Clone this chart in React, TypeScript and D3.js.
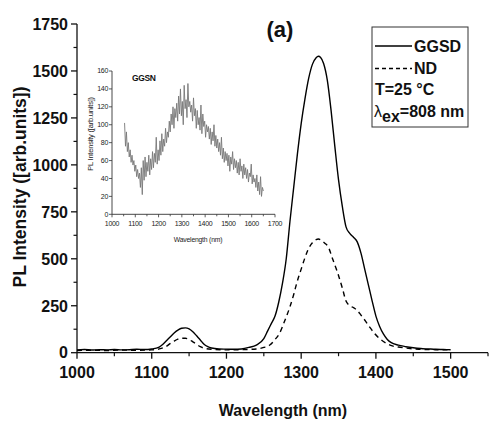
import React from "react";
import * as d3 from "d3";

// ---------- data ----------
const ggsdWl = [1000,1010,1020,1030,1040,1050,1060,1070,1080,1090,1100,1110,1115,1120,1125,1130,1135,1140,1145,1150,1155,1160,1165,1170,1175,1180,1190,1200,1210,1220,1230,1240,1250,1255,1260,1265,1270,1275,1280,1285,1290,1295,1300,1305,1310,1315,1320,1323,1326,1330,1335,1340,1345,1350,1355,1360,1365,1370,1375,1380,1385,1390,1395,1400,1405,1410,1415,1420,1430,1440,1450,1460,1470,1480,1490,1500];
const ggsdVal = [15,17,14,16,15,17,15,16,18,17,20,30,45,65,85,105,120,130,132,127,112,90,68,45,32,25,20,19,18,20,28,40,75,115,155,195,270,370,500,700,880,1060,1220,1350,1460,1535,1570,1578,1572,1540,1450,1290,1100,920,780,670,635,615,590,530,445,360,275,195,140,100,72,55,40,32,26,22,20,18,17,16];

const ndWl = [1000,1020,1040,1060,1080,1100,1110,1120,1125,1130,1135,1140,1145,1150,1155,1160,1165,1170,1180,1200,1220,1240,1250,1258,1265,1271,1278,1285,1290,1294,1300,1305,1309,1315,1320,1323,1327,1332,1336,1342,1349,1355,1360,1365,1370,1375,1380,1385,1391,1398,1405,1414,1422,1430,1440,1450,1460,1480,1500];
const ndVal = [12,13,12,14,13,15,20,35,50,62,72,77,77,70,58,45,32,24,18,15,16,20,28,41,70,103,170,245,310,370,445,505,547,585,602,605,598,582,565,500,423,345,275,250,240,225,200,174,140,103,75,50,36,30,25,20,18,16,15];

const ggsnStart = 1054;
const ggsnStep = 4;
const ggsnVal = [
  102,76,92,70,80,64,72,58,66,55,
  60,48,55,42,50,40,46,30,52,22,
  60,38,64,42,58,48,66,44,62,50,
  70,52,68,58,86,56,72,60,82,66,
  90,70,84,76,96,80,92,86,104,92,
  112,100,120,96,118,108,124,104,132,112,
  140,110,126,100,144,118,128,108,146,120,
  126,114,122,104,130,110,118,96,116,100,
  108,94,122,90,112,98,104,86,100,92,
  98,84,96,78,92,82,100,76,88,74,
  84,70,80,66,86,62,74,58,70,60,
  68,54,66,48,64,56,70,50,62,52,
  60,46,58,44,62,48,54,40,56,44,
  52,40,50,36,46,42,56,34,44,36,
  40,30,44,26,36,22,42,20,30,26,
];

const xMajor = [1000,1100,1200,1300,1400,1500];
const xMinor = [1050,1150,1250,1350,1450,1550];
const yMajor = [0,250,500,750,1000,1250,1500,1750];
const yMinor = [125,375,625,875,1125,1375,1625];
const insetXMajor = [1000,1100,1200,1300,1400,1500,1600,1700];
const insetXMinor = [1050,1150,1250,1350,1450,1550,1650];
const insetYMajor = [0,20,40,60,80,100,120,140,160];

const FONT = "'Liberation Sans', Arial, Helvetica, sans-serif";

export default function App() {
  const x = d3.scaleLinear().domain([1000, 1550]).range([77, 488]);
  const y = d3.scaleLinear().domain([0, 1750]).range([352.7, 24]);

  const ix = d3.scaleLinear().domain([1000, 1700]).range([112, 275]);
  const iy = d3.scaleLinear().domain([0, 160]).range([214.3, 71]);

  const line = d3.line<[number, number]>().x(d => x(d[0])).y(d => y(d[1])).curve(d3.curveMonotoneX);
  const ggsd = line(ggsdWl.map((w, i) => [w, ggsdVal[i]]));
  const nd = line(ndWl.map((w, i) => [w, ndVal[i]]));
  const iline = d3.line<[number, number]>().x(d => ix(d[0])).y(d => iy(d[1]));
  const ggsn = iline(ggsnVal.map((v, i) => [ggsnStart + i * ggsnStep, v]));

  const axisColor = "#111";

  return (
    <svg width={489} height={422} style={{ position: "absolute", left: 0, top: 0, background: "#fff" }} fontFamily={FONT}>
      <rect x={0} y={0} width={489} height={422} fill="#fff" />
      {/* main axes */}
      <line x1={x(1000)} x2={488} y1={y(0)} y2={y(0)} stroke={axisColor} strokeWidth={1.3} />
      <line x1={x(1000)} x2={x(1000)} y1={y(0)} y2={y(1750)} stroke={axisColor} strokeWidth={1.3} />
      {xMajor.map(t => (
        <g key={"xm" + t}>
          <line x1={x(t)} x2={x(t)} y1={y(0)} y2={y(0) + 6} stroke={axisColor} strokeWidth={1.3} />
          <text x={x(t)} y={378} textAnchor="middle" fontSize={16} fontWeight="bold" fill="#111">{t}</text>
        </g>
      ))}
      {xMinor.map(t => (
        <line key={"xn" + t} x1={x(t)} x2={x(t)} y1={y(0)} y2={y(0) + 3.5} stroke={axisColor} strokeWidth={1.2} />
      ))}
      {yMajor.map(t => (
        <g key={"ym" + t}>
          <line x1={x(1000) - 6} x2={x(1000)} y1={y(t)} y2={y(t)} stroke={axisColor} strokeWidth={1.3} />
          <text x={68} y={y(t)} dy="0.36em" textAnchor="end" fontSize={16} fontWeight="bold" fill="#111">{t}</text>
        </g>
      ))}
      {yMinor.map(t => (
        <line key={"yn" + t} x1={x(1000) - 3.5} x2={x(1000)} y1={y(t)} y2={y(t)} stroke={axisColor} strokeWidth={1.2} />
      ))}
      <text x={283} y={416} textAnchor="middle" fontSize={16} fontWeight="bold" fill="#111">Wavelength (nm)</text>
      <text transform="translate(26,187) rotate(-90)" textAnchor="middle" fontSize={17.5} fontWeight="bold" fill="#111">PL Intensity ([arb.units])</text>

      {/* main curves */}
      <path d={ggsd ?? ""} fill="none" stroke="#000" strokeWidth={1.4} />
      <path d={nd ?? ""} fill="none" stroke="#000" strokeWidth={1.4} strokeDasharray="5,4" />

      {/* panel label */}
      <text x={280} y={37} textAnchor="middle" fontSize={22} fontWeight="bold" fill="#111">(a)</text>

      {/* legend */}
      <rect x={372} y={27} width={96} height={100} fill="#fff" stroke="#333" strokeWidth={1} />
      <line x1={375} x2={412} y1={46} y2={46} stroke="#000" strokeWidth={1.3} />
      <text x={414} y={51.5} fontSize={16} fontWeight="bold" fill="#111">GGSD</text>
      <line x1={375} x2={412} y1={68.5} y2={68.5} stroke="#000" strokeWidth={1.3} strokeDasharray="4,3" />
      <text x={414} y={73.5} fontSize={16} fontWeight="bold" fill="#111">ND</text>
      <text x={375} y={95} fontSize={16} fontWeight="bold" fill="#111">T=25 °C</text>
      <text x={374} y={117} fontSize={16} fontWeight="bold" fill="#111">
        <tspan fontWeight="normal">λ</tspan>
        <tspan dy={5}>ex</tspan>
        <tspan dy={-5}>=808 nm</tspan>
      </text>

      {/* inset */}
      <line x1={ix(1000)} x2={ix(1700)} y1={iy(0)} y2={iy(0)} stroke="#333" strokeWidth={0.9} />
      <line x1={ix(1000)} x2={ix(1000)} y1={iy(0)} y2={iy(160)} stroke="#333" strokeWidth={0.9} />
      {insetXMajor.map(t => (
        <g key={"ixm" + t}>
          <line x1={ix(t)} x2={ix(t)} y1={iy(0)} y2={iy(0) + 3} stroke="#333" strokeWidth={0.8} />
          <text x={ix(t)} y={226} textAnchor="middle" fontSize={7} fill="#222" letterSpacing={-0.3}>{t}</text>
        </g>
      ))}
      {insetXMinor.map(t => (
        <line key={"ixn" + t} x1={ix(t)} x2={ix(t)} y1={iy(0)} y2={iy(0) + 2} stroke="#333" strokeWidth={0.8} />
      ))}
      {insetYMajor.map(t => (
        <g key={"iym" + t}>
          <line x1={ix(1000) - 3} x2={ix(1000)} y1={iy(t)} y2={iy(t)} stroke="#333" strokeWidth={0.8} />
          <text x={108} y={iy(t)} dy="0.35em" textAnchor="end" fontSize={7} fill="#222" letterSpacing={-0.3}>{t}</text>
        </g>
      ))}
      <text x={198} y={242} textAnchor="middle" fontSize={6.8} fill="#222" letterSpacing={-0.2}>Wavelength (nm)</text>
      <text transform="translate(93,134) rotate(-90)" textAnchor="middle" fontSize={7.5} fill="#222" letterSpacing={-0.2}>PL Intensity ([arb.units])</text>
      <text x={132} y={81} fontSize={8.5} fontWeight="bold" fill="#111" letterSpacing={-0.4}>GGSN</text>
      <path d={ggsn ?? ""} fill="none" stroke="#777" strokeWidth={0.9} />
    </svg>
  );
}
